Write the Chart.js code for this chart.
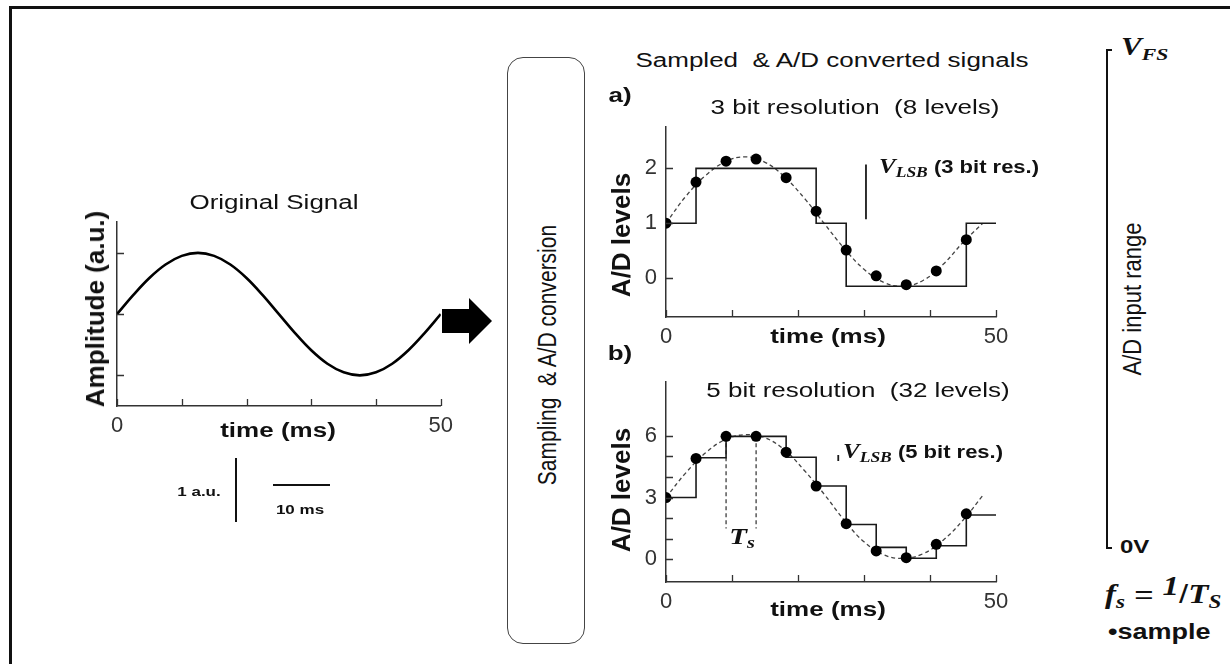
<!DOCTYPE html>
<html>
<head>
<meta charset="utf-8">
<script src="https://cdn.jsdelivr.net/npm/chart.js@4.4.1/dist/chart.umd.min.js"></script>
<style>
html, body { margin: 0; padding: 0; background: #fff; }
#fig { position: relative; width: 1230px; height: 664px; overflow: hidden; font-family: "Liberation Sans", Arial, sans-serif; color: #111; }
.frame { position: absolute; left: 9px; top: 6px; width: 1300px; height: 700px; border-left: 3px solid #111; border-top: 3px solid #111; }
canvas { position: absolute; }
.t { position: absolute; white-space: nowrap; line-height: 1; font-size: 26px; transform: translate(-50%, -50%) scaleY(.8); }
.tl { position: absolute; white-space: nowrap; line-height: 1; font-size: 26px; transform: translate(0, -50%) scaleY(.8); transform-origin: left center; }
.r { position: absolute; white-space: nowrap; line-height: 1; font-size: 26px; transform: translate(-50%, -50%) rotate(-90deg); }
.rs { position: absolute; white-space: nowrap; line-height: 1; font-size: 21px; transform: translate(-50%, -50%) rotate(-90deg) scaleY(1.2); }
.b { font-weight: bold; }
.m { font-family: "Liberation Serif", "Times New Roman", serif; font-style: italic; font-weight: bold; }
.m sub { font-size: .7em; vertical-align: -0.25em; }
.box { position: absolute; left: 507px; top: 57px; width: 76px; height: 585px; border: 1.5px solid #444; border-radius: 16px; }
.bar { position: absolute; background: #111; }
</style>
</head>
<body>
<div id="fig">
  <div class="frame"></div>

  <canvas id="orig" width="400" height="240" style="left:60px;top:200px"></canvas>
  <canvas id="bit3" width="410" height="250" style="left:610px;top:105px"></canvas>
  <canvas id="bit5" width="410" height="262" style="left:610px;top:360px"></canvas>

  <!-- left panel -->
  <div class="t" style="left:274px;top:202px">Original Signal</div>
  <div class="r b" style="left:95px;top:309px">Amplitude (a.u.)</div>
  <div class="t b" style="left:278px;top:430px">time (ms)</div>
  <div class="t b" style="left:199px;top:492px;font-size:17px">1 a.u.</div>
  <div class="bar" style="left:235px;top:458px;width:2px;height:64px"></div>
  <div class="bar" style="left:273px;top:484px;width:57px;height:2px"></div>
  <div class="t b" style="left:300px;top:510px;font-size:17px">10 ms</div>

  <svg style="position:absolute;left:440px;top:295px" width="56" height="52">
    <polygon points="2,14 29,14 29,3 52,26 29,49 29,38 2,38" fill="#000"/>
  </svg>

  <!-- middle box -->
  <div class="box"></div>
  <div class="rs" style="left:547px;top:355px">Sampling&nbsp; &amp; A/D conversion</div>

  <!-- right panels -->
  <div class="t" style="left:832px;top:60px">Sampled&nbsp; &amp; A/D converted signals</div>
  <div class="t b" style="left:620px;top:95px">a)</div>
  <div class="t" style="left:855px;top:107px">3 bit resolution&nbsp; (8 levels)</div>
  <div class="r b" style="left:621px;top:235px">A/D levels</div>
  <div class="t b" style="left:828px;top:336px">time (ms)</div>
  <div class="tl b" style="left:879px;top:168px;font-size:22px"><span class="m" style="font-size:25px">V<sub>LSB</sub></span> (3 bit res.)</div>

  <div class="t b" style="left:620px;top:353px">b)</div>
  <div class="t" style="left:858px;top:390px">5 bit resolution&nbsp; (32 levels)</div>
  <div class="r b" style="left:621px;top:490px">A/D levels</div>
  <div class="t b" style="left:828px;top:609px">time (ms)</div>
  <div class="tl b" style="left:843px;top:453px;font-size:22px"><span class="m" style="font-size:25px">V<sub>LSB</sub></span> (5 bit res.)</div>
  <div class="t m" style="left:742px;top:538px;font-size:29px">T<sub>s</sub></div>

  <!-- input range -->
  <div class="bar" style="left:1106px;top:49px;width:1.5px;height:499px"></div>
  <div class="bar" style="left:1106px;top:49px;width:6px;height:1.5px"></div>
  <div class="bar" style="left:1106px;top:547px;width:6px;height:1.5px"></div>
  <div class="tl m" style="left:1121px;top:49px;font-size:31px">V<sub>FS</sub></div>
  <div class="rs" style="left:1133px;top:299px;font-size:22px">A/D input range</div>
  <div class="tl b" style="left:1120px;top:547px;font-size:24px">0V</div>
  <div class="tl" style="left:1105px;top:592px;font-size:33px"><span class="m">f<sub>s</sub></span> = <span class="m" style="vertical-align:0.3em">1</span>/<span class="m">T<sub>S</sub></span></div>
  <div class="tl b" style="left:1108px;top:632px;font-size:27px">&#8226;sample</div>
</div>

<script>
// time axis (ms)
const xTicks = [0, 10, 20, 30, 40, 50];
const xLabels = [0, 50];

// original signal
const origT = [0, 2.5, 5, 7.5, 10, 12.5, 15, 17.5, 20, 22.5, 25, 27.5, 30, 32.5, 35, 37.5, 40, 42.5, 45, 47.5, 50];
const origV = [0, 0.31, 0.59, 0.81, 0.95, 1, 0.95, 0.81, 0.59, 0.31, 0, -0.31, -0.59, -0.81, -0.95, -1, -0.95, -0.81, -0.59, -0.31, 0];
const origYTicks = [-1, 0, 1];

// sampling instants (ms)
const sampleT = [0, 4.55, 9.1, 13.65, 18.2, 22.75, 27.3, 31.85, 36.4, 40.95, 45.5];
const stepEnd = 50;

// analog curve drawn dashed behind the samples
const curveT = [0, 3, 6, 9, 12, 15, 18, 21, 24, 27, 30, 33, 36, 39, 42, 45, 48];

// a) 3 bit
const aCurveV = [1.0, 1.49, 1.87, 2.12, 2.21, 2.11, 1.84, 1.45, 0.99, 0.54, 0.16, -0.08, -0.15, -0.04, 0.25, 0.65, 1.0];
const aSampleV = [1.0, 1.75, 2.13, 2.17, 1.83, 1.22, 0.51, 0.04, -0.12, 0.13, 0.70];
const aStepV = [1, 2, 2, 2, 2, 1, -0.15, -0.15, -0.15, -0.15, 1];
const aYTicks = [0, 1, 2];
const aYLabels = [0, 1, 2];
const aLsb = [30.3, 1.07, 2.07];   // t, from, to

// b) 5 bit
const bCurveV = [3.0, 4.2, 5.17, 5.82, 6.05, 5.9, 5.3, 4.3, 3.15, 1.9, 0.85, 0.22, 0.05, 0.28, 0.93, 1.9, 3.1];
const bSampleV = [3.0, 4.9, 5.97, 5.97, 5.2, 3.56, 1.73, 0.41, 0.08, 0.73, 2.21];
const bStepV = [3, 4.93, 5.97, 5.97, 4.96, 3.56, 1.69, 0.58, 0.05, 0.66, 2.15];
const bYTicks = [0, 1, 2, 3, 4, 5, 6];
const bYLabels = [0, 3, 6];
const bLsb = [26.1, 4.77, 5.06];
const tsT = [9.1, 13.65];          // T_s markers
const tsLevels = [5.97, 1.5];

const pts = (xs, ys) => xs.map((x, i) => ({ x, y: ys[i] }));
const INK = '#1a1a1a';

// inward tick marks
const innerTicks = {
    id: 'innerTicks',
    afterDatasetsDraw(chart) {
        const { ctx, chartArea, scales: { x, y } } = chart;
        ctx.save();
        ctx.strokeStyle = '#333';
        ctx.lineWidth = 1.3;
        ctx.beginPath();
        x.ticks.forEach(t => {
            const px = Math.round(x.getPixelForValue(t.value)) + 0.5;
            ctx.moveTo(px, chartArea.bottom);
            ctx.lineTo(px, chartArea.bottom - 7);
        });
        y.ticks.forEach(t => {
            const py = Math.round(y.getPixelForValue(t.value)) + 0.5;
            ctx.moveTo(chartArea.left, py);
            ctx.lineTo(chartArea.left + 7, py);
        });
        ctx.stroke();
        ctx.restore();
    }
};

function scales(opt) {
    const tickFont = { family: '"Liberation Sans", Arial, sans-serif', size: 22 };
    return {
        x: {
            type: 'linear', min: 0, max: 50,
            afterBuildTicks: s => { s.ticks = xTicks.map(v => ({ value: v })); },
            afterFit: s => { s.height = opt.xHeight; },
            grid: { display: false, drawTicks: false },
            border: { display: true, color: '#333', width: 1.5 },
            ticks: {
                autoSkip: false, maxRotation: 0, padding: opt.xPad, color: '#333', font: tickFont,
                callback: v => xLabels.includes(v) ? String(v) : ''
            }
        },
        y: {
            type: 'linear', min: opt.yMin, max: opt.yMax,
            afterBuildTicks: s => { s.ticks = opt.yTicks.map(v => ({ value: v })); },
            afterFit: s => { s.width = opt.yWidth; },
            grid: { display: false, drawTicks: false },
            border: { display: true, color: '#333', width: 1.5 },
            ticks: {
                autoSkip: false, padding: 9, color: '#333', font: tickFont,
                callback: v => opt.yLabels.includes(v) ? String(v) : ''
            }
        }
    };
}

const common = {
    responsive: false,
    animation: false,
    plugins: { legend: { display: false }, tooltip: { enabled: false } },
    elements: { point: { radius: 0 } }
};

const dashed = data => ({ data, borderColor: '#444', borderWidth: 1.3, borderDash: [4, 3], tension: 0.4, pointRadius: 0, order: 3 });
// sample & hold: horizontal first, then the vertical step
const stairs = data => ({ data, borderColor: INK, borderWidth: 1.6, stepped: 'before', pointRadius: 0, order: 2 });
const dots = data => ({ data, showLine: false, pointRadius: 5.5, pointBackgroundColor: '#000', pointBorderWidth: 0, order: 1 });
const bar = (t, lo, hi, dash) => ({ data: [{ x: t, y: lo }, { x: t, y: hi }], borderColor: INK, borderWidth: dash ? 1.1 : 1.8, borderDash: dash ? [4, 3] : [], pointRadius: 0, order: 4 });

new Chart(document.getElementById('orig'), {
    type: 'line',
    data: { datasets: [{ data: pts(origT, origV), borderColor: '#000', borderWidth: 2.6, tension: 0.4, pointRadius: 0 }] },
    options: {
        ...common,
        layout: { padding: { top: 12, right: 19, left: 0, bottom: 0 } },
        scales: scales({ yMin: -1.5, yMax: 1.5, yTicks: origYTicks, yLabels: [], yWidth: 57, xHeight: 34, xPad: 7 })
    },
    plugins: [innerTicks]
});

new Chart(document.getElementById('bit3'), {
    type: 'line',
    data: {
        datasets: [
            dashed(pts(curveT, aCurveV)),
            stairs(pts([...sampleT, stepEnd], [...aStepV, aStepV[aStepV.length - 1]])),
            dots(pts(sampleT, aSampleV)),
            bar(aLsb[0], aLsb[1], aLsb[2], false)
        ]
    },
    options: {
        ...common,
        layout: { padding: { top: 12, right: 24, left: 0, bottom: 0 } },
        scales: scales({ yMin: -0.71, yMax: 2.75, yTicks: aYTicks, yLabels: aYLabels, yWidth: 56, xHeight: 38, xPad: 7 })
    },
    plugins: [innerTicks]
});

new Chart(document.getElementById('bit5'), {
    type: 'line',
    data: {
        datasets: [
            dashed(pts(curveT, bCurveV)),
            stairs(pts([...sampleT, stepEnd], [...bStepV, bStepV[bStepV.length - 1]])),
            dots(pts(sampleT, bSampleV)),
            bar(bLsb[0], bLsb[1], bLsb[2], false),
            bar(tsT[0], tsLevels[0], tsLevels[1], true),
            bar(tsT[1], tsLevels[0], tsLevels[1], true)
        ]
    },
    options: {
        ...common,
        layout: { padding: { top: 10, right: 24, left: 0, bottom: 0 } },
        scales: scales({ yMin: -1.1, yMax: 8.6, yTicks: bYTicks, yLabels: bYLabels, yWidth: 56, xHeight: 40, xPad: 7 })
    },
    plugins: [innerTicks]
});
</script>
</body>
</html>
